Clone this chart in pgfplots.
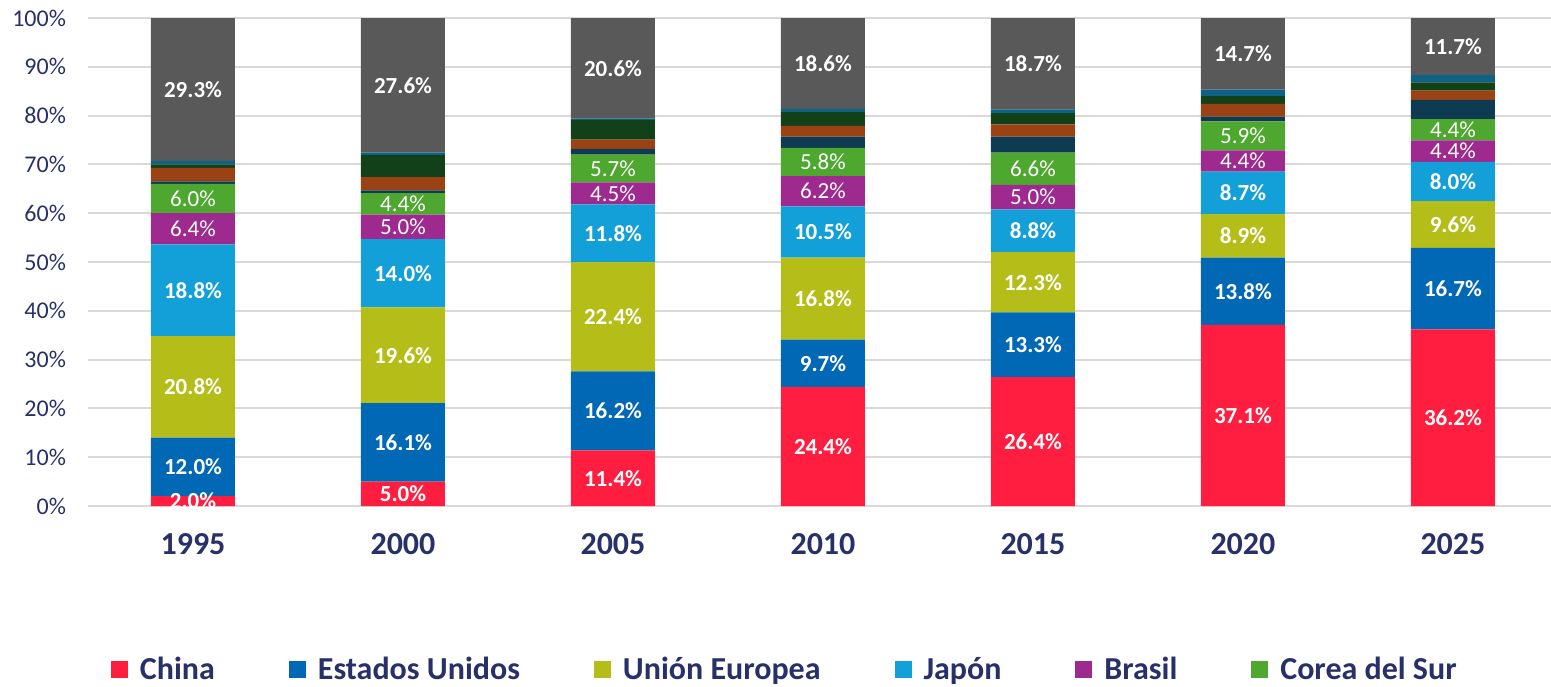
\documentclass[border=0pt]{standalone}
\usepackage{pgfplots}
\pgfplotsset{compat=1.18}
\usepackage{pgfplotstable}
\usepackage{fontspec}
\setmainfont{Carlito}
\definecolor{txt}{HTML}{283069}
\definecolor{gridgray}{HTML}{D9D9D9}
\definecolor{cChina}{HTML}{FF1E40}
\definecolor{cUS}{HTML}{0068B5}
\definecolor{cUE}{HTML}{B5BE18}
\definecolor{cJP}{HTML}{13A0D8}
\definecolor{cBR}{HTML}{9E2A8F}
\definecolor{cKR}{HTML}{4EA72E}
\definecolor{cNavy}{HTML}{0E3A52}
\definecolor{cOrange}{HTML}{9B4215}
\definecolor{cDGreen}{HTML}{124019}
\definecolor{cTeal}{HTML}{0E6285}
\definecolor{cGray}{HTML}{595959}

\pgfplotstableread{
x v
0 2.0
1 5.0
2 11.4
3 24.4
4 26.4
5 37.1
6 36.2
}\tChina
\pgfplotstableread{
x v
0 12.0
1 16.1
2 16.2
3 9.7
4 13.3
5 13.8
6 16.7
}\tUS
\pgfplotstableread{
x v
0 20.8
1 19.6
2 22.4
3 16.8
4 12.3
5 8.9
6 9.6
}\tUE
\pgfplotstableread{
x v
0 18.8
1 14.0
2 11.8
3 10.5
4 8.8
5 8.7
6 8.0
}\tJP
\pgfplotstableread{
x v
0 6.4
1 5.0
2 4.5
3 6.2
4 5.0
5 4.4
6 4.4
}\tBR
\pgfplotstableread{
x v
0 6.0
1 4.4
2 5.7
3 5.8
4 6.6
5 5.9
6 4.4
}\tKR
\pgfplotstableread{
x v
0 0.5
1 0.6
2 1.2
3 2.3
4 3.3
5 1.0
6 3.9
}\tNavy
\pgfplotstableread{
x v
0 2.8
1 2.7
2 1.9
3 2.2
4 2.5
5 2.6
6 1.9
}\tOrange
\pgfplotstableread{
x v
0 0.7
1 4.5
2 4.0
3 2.8
4 2.3
5 1.6
6 1.7
}\tDGreen
\pgfplotstableread{
x v
0 0.7
1 0.5
2 0.3
3 0.7
4 0.8
5 1.3
6 1.5
}\tTeal
\pgfplotstableread{
x v
0 29.3
1 27.6
2 20.6
3 18.6
4 18.7
5 14.7
6 11.7
}\tGray

\pgfplotsset{
  lab/.style={
    nodes near coords={\pgfmathprintnumber[fixed,fixed zerofill,precision=1,assume math mode=true]{\pgfplotspointmeta}\%},
    point meta=\thisrow{v},
    every node near coord/.append style={anchor=center, text=white,
      font=#1\fontsize{11.5}{13}\selectfont},
  },
  lab/.default=\bfseries,
}

\begin{document}
\begin{tikzpicture}
\useasboundingbox (-44pt,-90pt) rectangle (731.5pt,253pt);
\begin{axis}[
  at={(0,0)}, anchor=south west, scale only axis,
  width=731.5pt, height=244pt,
  xmin=-0.5, xmax=6.467, ymin=0, ymax=100,
  ybar stacked, bar width=42pt,
  /pgf/number format/assume math mode=true,
  axis line style={draw=none}, major tick style={draw=none},
  ymajorgrids, grid style={draw=gridgray, line width=1pt},
  ytick={0,10,...,100},
  yticklabel={\pgfmathprintnumber{\tick}\%},
  yticklabel style={font=\fontsize{12}{14}\selectfont, text=txt, xshift=-7.5pt},
  xtick={0,...,6},
  xticklabels={1995,2000,2005,2010,2015,2020,2025},
  xticklabel style={font=\bfseries\fontsize{16}{18}\selectfont, text=txt, yshift=-10pt},
  legend columns=6,
  legend image code/.code={\fill[#1] (0pt,-4.25pt) rectangle (8.5pt,4.25pt);},
  legend style={draw=none, fill=none, at={(0.0157,-0.336)}, anchor=west,
    inner sep=0pt, outer sep=0pt,
    font=\bfseries\fontsize{16}{18}\selectfont, text=txt,
    /tikz/every even column/.append style={column sep=35pt},
    /tikz/every odd column/.append style={column sep=4pt}},
  legend cell align=left,
]
\addplot[fill=cChina, draw=none, lab] table[x=x,y=v] {\tChina};
\addlegendentry{China}
\addplot[fill=cUS, draw=none, lab] table[x=x,y=v] {\tUS};
\addlegendentry{Estados Unidos}
\addplot[fill=cUE, draw=none, lab] table[x=x,y=v] {\tUE};
\addlegendentry{Unión Europea}
\addplot[fill=cJP, draw=none, lab] table[x=x,y=v] {\tJP};
\addlegendentry{Japón}
\addplot[fill=cBR, draw=none, lab=\mdseries] table[x=x,y=v] {\tBR};
\addlegendentry{Brasil}
\addplot[fill=cKR, draw=none, lab=\mdseries] table[x=x,y=v] {\tKR};
\addlegendentry{Corea del Sur}
\addplot[fill=cNavy, draw=none] table[x=x,y=v] {\tNavy};
\addplot[fill=cOrange, draw=none] table[x=x,y=v] {\tOrange};
\addplot[fill=cDGreen, draw=none] table[x=x,y=v] {\tDGreen};
\addplot[fill=cTeal, draw=none] table[x=x,y=v] {\tTeal};
\addplot[fill=cGray, draw=none, lab] table[x=x,y=v] {\tGray};
\end{axis}
\end{tikzpicture}
\end{document}
